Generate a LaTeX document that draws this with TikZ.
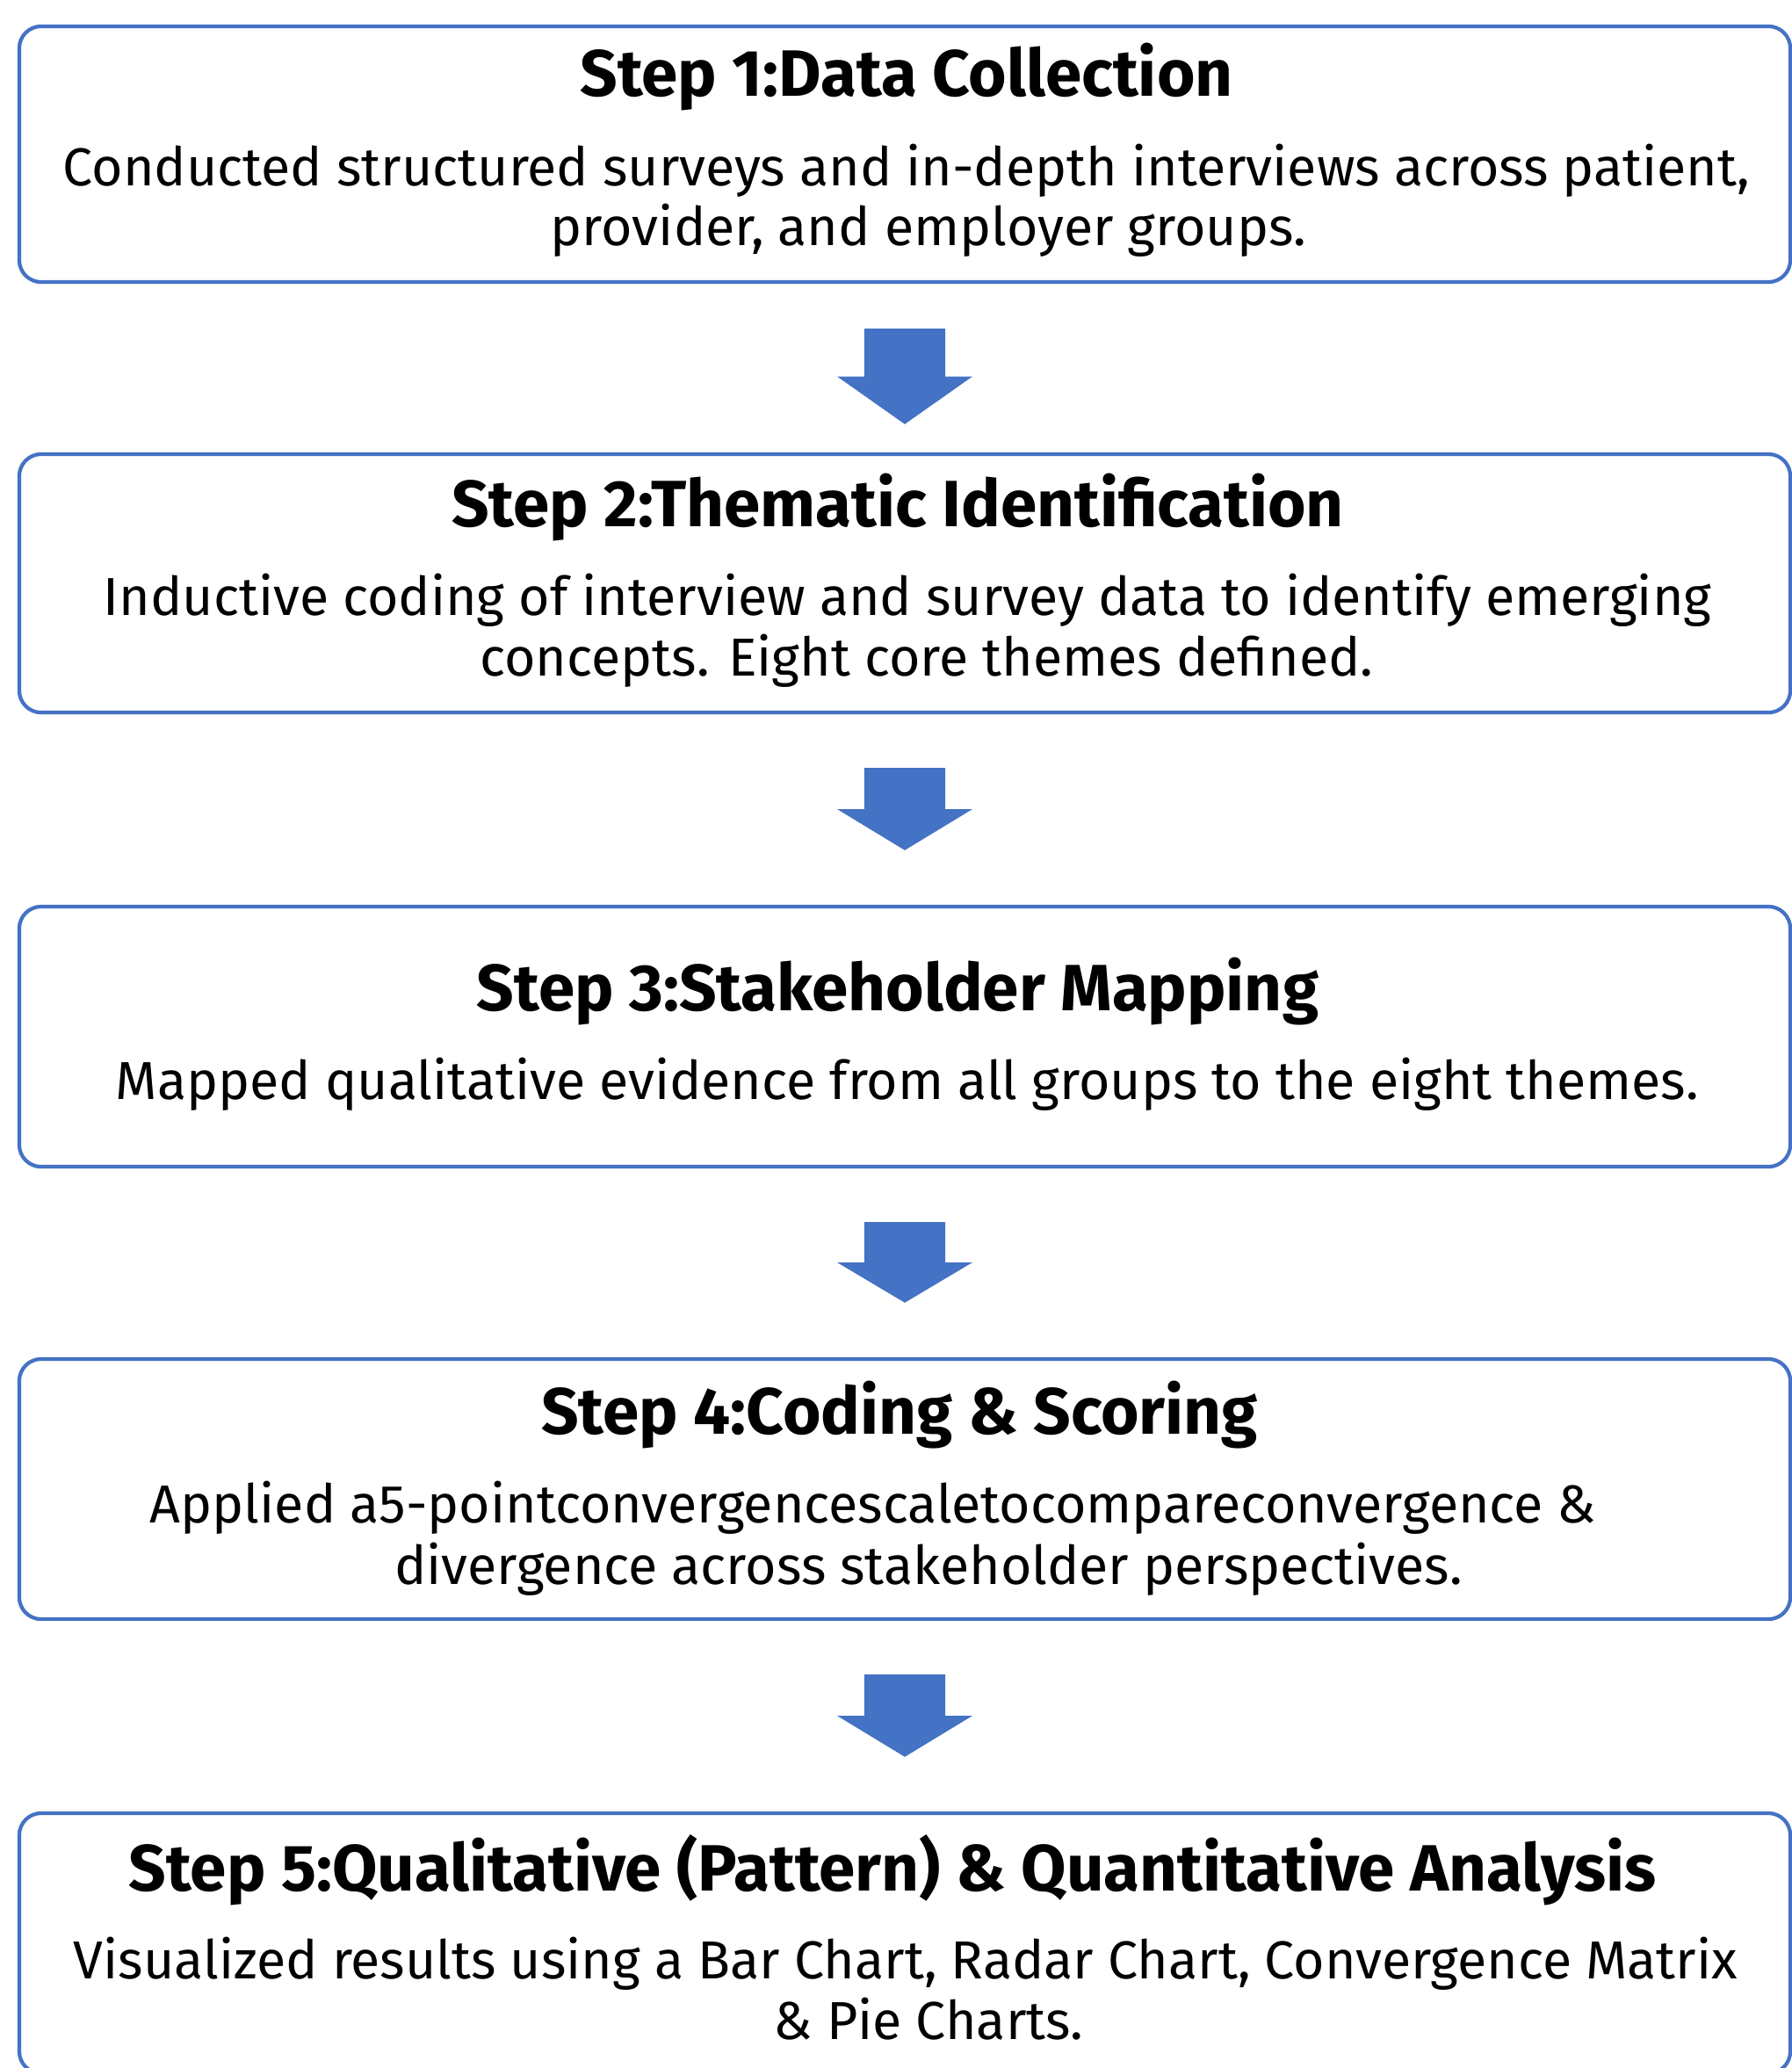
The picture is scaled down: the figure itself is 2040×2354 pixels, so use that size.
\documentclass[tikz,border=0pt]{standalone}
\usepackage{fontspec}
\setmainfont{Fira Sans}
\usepackage{tikz}
\usetikzlibrary{calc}
\definecolor{flowblue}{HTML}{4472C4}
\tikzstyle{stepbox} = [rectangle, draw=flowblue, line width=1.2pt, rounded corners=0.25cm, minimum width=20.15cm, inner sep=0pt]
\tikzstyle{steptitle} = [anchor=base, inner sep=0pt, font=\fontsize{21.2}{25}\selectfont\bfseries]
\tikzstyle{stepline} = [anchor=base, inner sep=0pt, font=\fontsize{17.3}{21}\selectfont]

\begin{document}
\begin{tikzpicture}[x=0.01cm,y=-0.01cm]
            \useasboundingbox (0,0) rectangle (2040,2354);
            % boxes
            \node[stepbox, minimum height=2.91cm] (s1) at (1030,175.5) {};
            \node[stepbox, minimum height=2.94cm] (s2) at (1030,664) {};
            \node[stepbox, minimum height=2.96cm] (s3) at (1030,1180) {};
            \node[stepbox, minimum height=2.96cm] (s4) at (1030,1695) {};
            \node[stepbox, minimum height=2.96cm] (s5) at (1030,2212) {};
            % texts
            \node[steptitle] (t1) at (1032,109) {Step 1:Data Collection};
            \node[stepline] (d1a) at (1032,211) {Conducted structured surveys and in-depth interviews across patient,};
            \node[stepline] (d1b) at (1057,279) {provider, and employer groups.};
            \node[steptitle] (t2) at (1022,599) {Step 2:Thematic Identification};
            \node[stepline] (d2a) at (1033,700) {Inductive coding of interview and survey data to identify emerging};
            \node[stepline] (d2b) at (1055,769) {concepts. Eight core themes defined.};
            \node[steptitle] (t3) at (1022,1150) {Step 3:Stakeholder Mapping};
            \node[stepline] (d3a) at (1033,1251) {Mapped qualitative evidence from all groups to the eight themes.};
            \node[steptitle] (t4) at (1024,1632) {Step 4:Coding \& Scoring};
            \node[stepline] (d4a) at (994,1733) {Applied a5-pointconvergencescaletocompareconvergence \&};
            \node[stepline] (d4b) at (1057,1803) {divergence across stakeholder perspectives.};
            \node[steptitle] (t5) at (1016,2152) {Step 5:Qualitative (Pattern) \& Quantitative Analysis};
            \node[stepline] (d5a) at (1031,2252) {Visualized results using a Bar Chart, Radar Chart, Convergence Matrix};
            \node[stepline] (d5b) at (1057,2321) {\& Pie Charts.};
            % block arrows
            \foreach \from/\to/\gapa/\gapb in {s1/s2/51/32, s2/s3/61/62, s3/s4/61/62, s4/s5/61/62}
                \fill[flowblue] let \p1=($(\from.south)+(0,\gapa)$), \p2=($(\to.north)-(0,\gapb)$) in
                    (\x1-0.46cm,\y1) -- (\x1+0.46cm,\y1) -- (\x1+0.46cm,{(\y1+\y2)/2}) -- (\x1+0.77cm,{(\y1+\y2)/2})
                    -- (\x2,\y2) -- (\x1-0.77cm,{(\y1+\y2)/2}) -- (\x1-0.46cm,{(\y1+\y2)/2}) -- cycle;
        \end{tikzpicture}
\end{document}
